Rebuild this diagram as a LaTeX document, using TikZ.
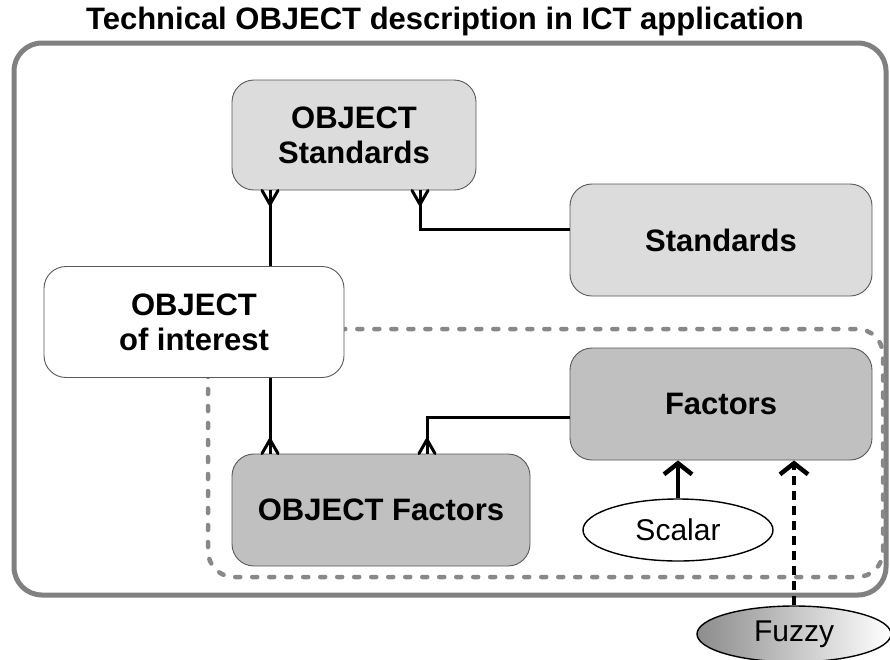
\documentclass[tikz,border=0pt]{standalone}
\usepackage{fontspec}
\setmainfont{Liberation Sans}
\usetikzlibrary{arrows.meta,decorations.markings,shapes.geometric}
\definecolor{lightbox}{HTML}{DCDCDC}
\definecolor{darkbox}{HTML}{C0C0C0}
\definecolor{framegray}{HTML}{808080}
\definecolor{dashgray}{HTML}{888888}
\tikzset{
  box/.style={draw=black!65, line width=0.9pt, rounded corners=22pt, align=center,
    font=\fontsize{31}{35}\selectfont\bfseries, inner sep=0pt},
  conn/.style={draw=black, line width=3pt},
  crow/.style={decoration={markings, mark=at position 1 with {
      \draw[line width=3pt, line cap=round] (-14pt,0) -- (0,8pt) (-14pt,0) -- (0,-8pt);}},
    postaction={decorate}},
  uparrow/.style={draw=black, line width=4.5pt, -{Straight Barb[length=11pt,width=28pt,line width=4.5pt]}},
  oval/.style={ellipse, draw=black, line width=1.4pt, inner sep=0pt,
    font=\fontsize{30}{34}\selectfont},
}
\begin{document}
\begin{tikzpicture}[x=1pt,y=-1pt]
\useasboundingbox (0,0) rectangle (890,659);
% title
\node[font=\fontsize{31}{34}\selectfont\bfseries] (title) at (445,21) {Technical OBJECT description in ICT application};
% outer frame
\draw[framegray, line width=5pt, rounded corners=28pt] (14,43) rectangle (886,595);
% dashed region
\draw[dashgray, line width=4.5pt, line cap=round, dash pattern=on 5pt off 12pt, rounded corners=26pt] (208,329) rectangle (883,577);
% boxes
\node[box, fill=lightbox, minimum width=244pt, minimum height=110pt] (objstd) at (354,135) {OBJECT\\Standards};
\node[box, fill=lightbox, minimum width=302pt, minimum height=112pt] (std) at (721,240) {Standards};
\node[box, fill=white, minimum width=300pt, minimum height=111pt] (obj) at (194,322) {OBJECT\\of interest};
\node[box, fill=darkbox, minimum width=302pt, minimum height=112pt] (fac) at (721,404) {Factors};
\node[box, fill=darkbox, minimum width=298pt, minimum height=112pt] (objfac) at (381,510) {OBJECT Factors};
% ellipses
\node[oval, fill=white, minimum width=190pt, minimum height=62pt] (scalar) at (678,530) {Scalar};
\node[oval, left color=black!45, right color=white, minimum width=194pt, minimum height=56pt] (fuzzy) at (794,634) {Fuzzy};
% helper coordinates
\coordinate (xa) at (270,0);
\coordinate (kb) at (420,229);
\coordinate (kf) at (427,417);
% connectors
\draw[conn, crow] (obj.north -| xa) -- (objstd.south -| xa);
\draw[conn, crow] (std.west |- kb) -| (objstd.south -| kb);
\draw[conn, crow] (obj.south -| xa) -- (objfac.north -| xa);
\draw[conn, crow] (fac.west |- kf) -| (objfac.north -| kf);
\draw[uparrow] (scalar.north) -- (fac.south -| scalar.north);
\draw[uparrow, dash pattern=on 9pt off 6pt] (fuzzy.north) -- (fac.south -| fuzzy.north);
\end{tikzpicture}
\end{document}
